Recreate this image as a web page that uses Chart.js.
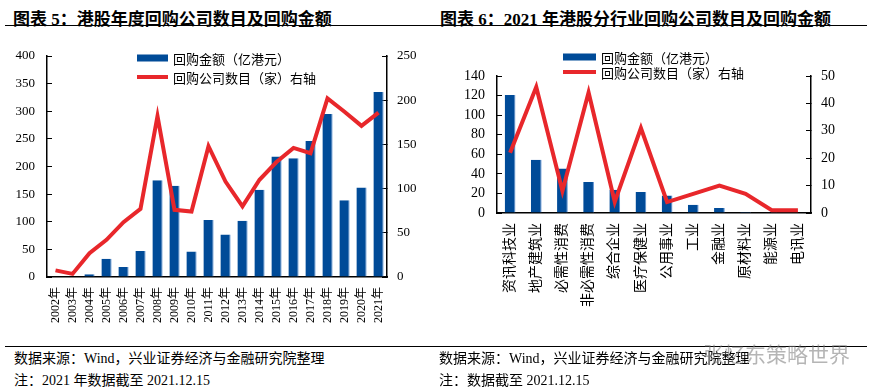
<!DOCTYPE html>
<html>
<head>
<meta charset="utf-8">
<script src="https://cdn.jsdelivr.net/npm/chart.js@4.4.0/dist/chart.umd.min.js"></script>
<style>
  body { margin: 0; background: #fff; width: 879px; height: 390px; position: relative; overflow: hidden;
         font-family: "Liberation Serif", "Noto Sans CJK SC", serif; color: #000; }
  .title { position: absolute; top: 5px; font-size: 17px; font-weight: bold; font-family: "Liberation Serif", "Noto Sans CJK SC"; white-space: nowrap; }
  .rule { position: absolute; height: 0; border-top: 1.5px solid #000; }
  .note { position: absolute; font-size: 14px; white-space: nowrap; }
  .box { position: absolute; }
  .mark { position: absolute; left: 703px; top: 338px; font-size: 21px; color: rgba(120,120,120,0.55); font-family: "Noto Sans CJK SC"; white-space: nowrap; }
</style>
</head>
<body>
<div class="title" style="left:13px">图表 5：港股年度回购公司数目及回购金额</div>
<div class="rule" style="left:5px; width:435px; top:25px"></div>
<div class="title" style="left:440px">图表 6：2021 年港股分行业回购公司数目及回购金额</div>
<div class="rule" style="left:432px; width:435px; top:25px"></div>

<div class="box" style="left:0; top:30px; width:435px; height:310px"><canvas id="c1"></canvas></div>
<div class="box" style="left:432px; top:30px; width:447px; height:310px"><canvas id="c2"></canvas></div>

<div class="rule" style="left:5px; width:435px; top:346px"></div>
<div class="rule" style="left:432px; width:435px; top:346px"></div>
<div class="note" style="left:14px; top:347px">数据来源：Wind，兴业证券经济与金融研究院整理</div>
<div class="note" style="left:14px; top:369px">注：2021 年数据截至 2021.12.15</div>
<div class="note" style="left:439px; top:347px">数据来源：Wind，兴业证券经济与金融研究院整理</div>
<div class="note" style="left:439px; top:369px">注：数据截至 2021.12.15</div>
<div class="mark">张忆东策略世界</div>

<script>
// 图表5 data
var years = ['2002年', '2003年', '2004年', '2005年', '2006年', '2007年', '2008年', '2009年', '2010年', '2011年',
             '2012年', '2013年', '2014年', '2015年', '2016年', '2017年', '2018年', '2019年', '2020年', '2021年'];
var yearAmount = [0, 0, 5, 33, 18, 47, 175, 165, 46, 103, 77, 102, 158, 218, 215, 246, 295, 139, 162, 335];
var yearCount = [7.5, 3.5, 27, 42, 62, 77, 182, 76, 74, 148, 108, 80, 110, 130, 146, 140, 202, 187, 171, 186];

// 图表6 data
var sectors = ['资讯科技业', '地产建筑业', '必需性消费', '非必需性消费', '综合企业', '医疗保健业',
               '公用事业', '工业', '金融业', '原材料业', '能源业', '电讯业'];
var sectorAmount = [120.5, 54.5, 45.5, 31.8, 23.8, 21.5, 18, 8.5, 5, 1, 0.3, 0];
var sectorCount = [22, 46, 8, 44, 4, 31, 4, 7, 10, 7, 1, 1];

var labelAmount = '回购金额（亿港元）';
var labelCount = '回购公司数目（家）右轴';

var blue = '#004B98';
var red = '#E8272B';
var numFont = '"Liberation Serif", "Noto Sans CJK SC"';

var innerLegend = {
    id: 'innerLegend',
    afterDraw: function(chart, args, opts) {
        var ctx = chart.ctx;
        ctx.save();
        ctx.font = '13px "Noto Sans CJK SC"';
        ctx.textBaseline = 'middle';
        ctx.fillStyle = '#000';
        chart.data.datasets.forEach(function(d, i) {
            var y = opts.y + i * opts.gap;
            if (d.type === 'line') {
                ctx.strokeStyle = d.borderColor;
                ctx.lineWidth = 4;
                ctx.beginPath();
                ctx.moveTo(opts.x, y);
                ctx.lineTo(opts.x + opts.w, y);
                ctx.stroke();
            } else {
                ctx.fillStyle = d.backgroundColor;
                ctx.fillRect(opts.x, y - 3.5, opts.w, 7);
                ctx.fillStyle = '#000';
            }
            ctx.fillText(d.label, opts.x + opts.w + 5, y + 1);
        });
        ctx.restore();
    }
};

function makeChart(id, cats, bars, line, cfg) {
    var ctx = document.getElementById(id).getContext('2d');
    return new Chart(ctx, {
        data: {
            labels: cats,
            datasets: [{
                type: 'bar',
                label: labelAmount,
                data: bars,
                backgroundColor: blue,
                borderColor: '#5b8fd0',
                borderWidth: { right: 1 },
                borderSkipped: false,
                barPercentage: cfg.barPct,
                categoryPercentage: 1,
                yAxisID: 'y',
                order: 1
            }, {
                type: 'line',
                label: labelCount,
                data: line,
                borderColor: red,
                borderWidth: 4,
                pointRadius: 0,
                tension: 0,
                yAxisID: 'y1',
                order: 0
            }]
        },
        options: {
            responsive: true,
            maintainAspectRatio: false,
            animation: false,
            layout: { padding: { top: cfg.top, left: 0, right: 0, bottom: 0 } },
            plugins: {
                legend: { display: false },
                tooltip: { enabled: false },
                innerLegend: cfg.legend
            },
            scales: {
                x: {
                    grid: { display: false, drawTicks: false },
                    border: { color: '#000', width: 1.5 },
                    ticks: {
                        autoSkip: false, minRotation: 90, maxRotation: 90, padding: cfg.xPad,
                        color: '#000', font: { family: numFont, size: cfg.xSize }
                    },
                    afterFit: function(s) { s.height = cfg.xH; }
                },
                y: {
                    position: 'left',
                    min: 0, max: cfg.yMax,
                    grid: { drawOnChartArea: false, tickLength: -5, color: '#000', lineWidth: 1 },
                    border: { color: '#000', width: 1.5 },
                    ticks: { stepSize: cfg.yStep, autoSkip: false, padding: 17, color: '#000', font: { family: numFont, size: cfg.ySize } },
                    afterFit: function(s) { s.width = cfg.yW; }
                },
                y1: {
                    position: 'right',
                    min: 0, max: cfg.y1Max,
                    grid: { drawOnChartArea: false, tickLength: -5, color: '#000', lineWidth: 1 },
                    border: { color: '#000', width: 1.5 },
                    ticks: { stepSize: cfg.y1Step, autoSkip: false, padding: 15, color: '#000', font: { family: numFont, size: cfg.ySize } },
                    afterFit: function(s) { s.width = cfg.y1W; }
                }
            }
        },
        plugins: [innerLegend]
    });
}

makeChart('c1', years, yearAmount, yearCount, {
    barPct: 0.6, top: 26, xH: 63, xPad: 10, xSize: 12, yW: 47, y1W: 48, ySize: 13,
    yMax: 400, yStep: 50, y1Max: 250, y1Step: 50,
    legend: { x: 137, y: 28, gap: 19, w: 31 }
});

makeChart('c2', sectors, sectorAmount, sectorCount, {
    barPct: 0.41, top: 46, xH: 127, xPad: 10, xSize: 14, yW: 65, y1W: 68, ySize: 14,
    yMax: 140, yStep: 20, y1Max: 50, y1Step: 10,
    legend: { x: 131, y: 27, gap: 15, w: 33 }
});
</script>
</body>
</html>
